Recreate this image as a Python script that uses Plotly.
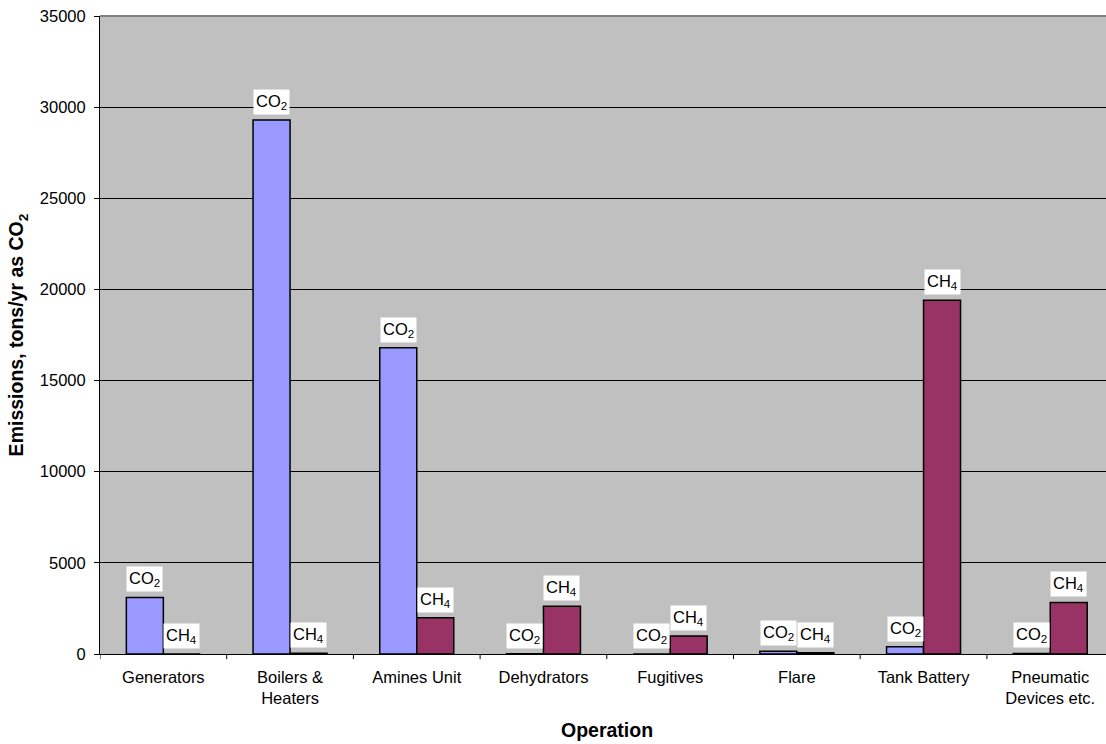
import plotly.graph_objects as go

categories = ["Generators", "Boilers &<br>Heaters", "Amines Unit", "Dehydrators",
              "Fugitives", "Flare", "Tank Battery", "Pneumatic<br>Devices etc."]
co2_values = [3100, 29300, 16800, 20, 0, 150, 400, 30]
ch4_values = [0, 40, 1990, 2620, 990, 70, 19400, 2830]
y_ticks = [0, 5000, 10000, 15000, 20000, 25000, 30000, 35000]
y_tick_labels = ["0", "5000", "10000", "15000", "20000", "25000", "30000", "35000"]

FONT = "Liberation Sans, Arial, sans-serif"
BAR_W = 0.292
idx = list(range(len(categories)))

fig = go.Figure()
fig.add_trace(go.Bar(x=idx, y=co2_values, name="CO2", width=BAR_W, offset=-BAR_W,
                     marker=dict(color="#9999FF", line=dict(color="black", width=1.5))))
fig.add_trace(go.Bar(x=idx, y=ch4_values, name="CH4", width=BAR_W, offset=0,
                     marker=dict(color="#993366", line=dict(color="black", width=1.5))))

annotations = []
for i, (c, h) in enumerate(zip(co2_values, ch4_values)):
    for xv, yv, txt in [(i - BAR_W / 2, c, "CO<sub>2</sub>"), (i + BAR_W / 2, h, "CH<sub>4</sub>")]:
        annotations.append(dict(x=xv, y=yv, xref="x", yref="y", text=txt, showarrow=False,
                                yanchor="bottom", yshift=5, bgcolor="white", borderpad=2,
                                font=dict(family=FONT, size=16.5, color="black")))
annotations.append(dict(x=(len(categories) - 1) / 2, y=0, xref="x", yref="paper",
                        yshift=-76, yanchor="middle", text="<b>Operation</b>", showarrow=False,
                        font=dict(family=FONT, size=19.5, color="black")))

fig.update_layout(
    width=1106, height=744,
    margin=dict(l=100, r=0, t=16, b=90),
    paper_bgcolor="white", plot_bgcolor="#C0C0C0",
    showlegend=False, barmode="overlay",
    annotations=annotations,
    font=dict(family=FONT, size=16.5, color="black"),
    xaxis=dict(tickmode="array", tickvals=idx, ticktext=categories,
               range=[-0.5, -0.5 + (1106 - 100) / 126.7],
               showline=True, linecolor="black", linewidth=1,
               ticks="", ticklabelstandoff=8,
               showgrid=False, zeroline=False,
               tickfont=dict(family=FONT, size=16.5, color="black")),
    yaxis=dict(range=[0, 35000], tickmode="array", tickvals=y_ticks, ticktext=y_tick_labels,
               ticks="outside", ticklen=5, ticklabelstandoff=5,
               tickcolor="black", showline=True, linecolor="black", linewidth=1,
               gridcolor="black", gridwidth=1, zeroline=False,
               tickfont=dict(family=FONT, size=16.5, color="black"),
               title=dict(text="<b>Emissions, tons/yr as CO<sub>2</sub></b>", standoff=10,
                          font=dict(family=FONT, size=19.5, color="black"))),
)
# top border of plot area
fig.add_shape(type="line", xref="paper", yref="paper", x0=0, x1=1, y0=1, y1=1,
              line=dict(color="#808080", width=2))
# category boundary ticks
for b in [i + 0.5 for i in idx[:-1]] + [-0.5]:
    fig.add_shape(type="line", xref="x", yref="paper", x0=b, x1=b, y0=0, y1=-0.008,
                  line=dict(color="black", width=1))

fig.write_html("out.html")
